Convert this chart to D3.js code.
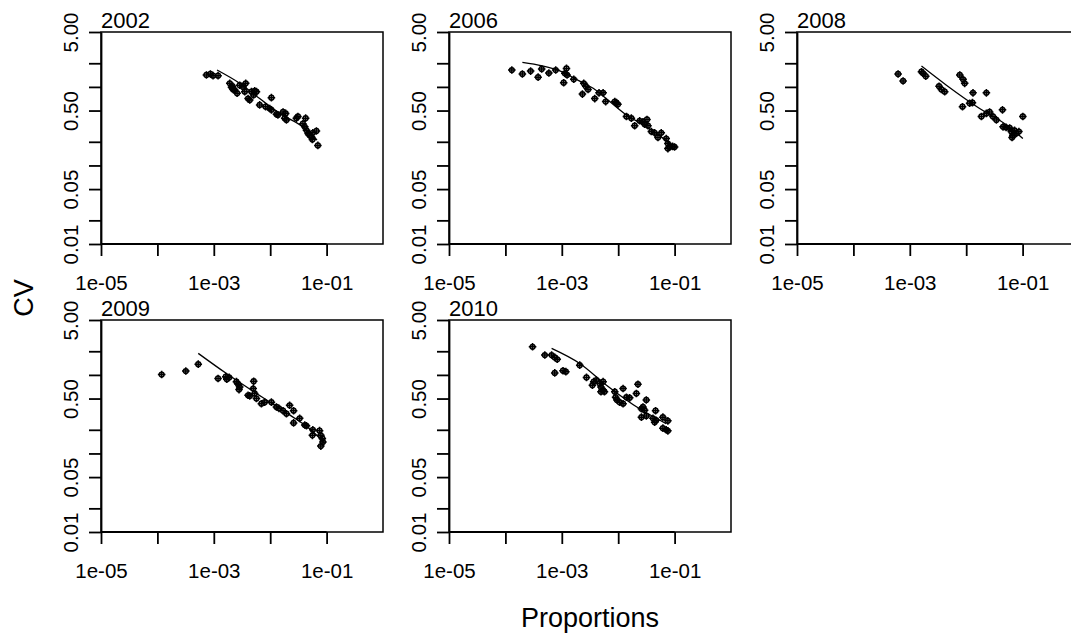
<!DOCTYPE html>
<meta charset="utf-8">
<style>
  body { margin: 0; background: #fff; }
  svg { display: block; font-family: "Liberation Sans", Arial, sans-serif; }
  .box { fill: none; stroke: #000; stroke-width: 1.5; }
  .axis path, .axis line { stroke: #000; stroke-width: 1.8; }
  .axis text { font-size: 20.5px; fill: #000; }
  .fit { fill: none; stroke: #000; stroke-width: 1.3; }
  .pt circle { fill: none; stroke: #000; stroke-width: 1.5; }
  .pt path { stroke: #000; stroke-width: 1.5; }
</style>
<svg width="1071" height="642"></svg>
<script src="https://d3js.org/d3.v7.min.js"></script>
<script>

// data: proportion (x), CV (y)
var years = ["2002", "2006", "2008", "2009", "2010"];

var p2002 = [7.4e-4, 8.7e-4, 9.7e-4, 1.19e-3, 1.92e-3, 2.06e-3, 2.2e-3, 2.35e-3, 2.59e-3, 2.14e-3, 2.88e-3, 3.3e-3, 3.68e-3, 3.54e-3, 4.05e-3, 4.34e-3, 4.65e-3, 5.3e-3, 5.7e-3, 5.1e-3, 6.5e-3, 1.05e-2, 8.3e-3, 9.8e-3, 1.05e-2, 1.29e-2, 1.37e-2, 1.69e-2, 1.88e-2, 1.81e-2, 1.94e-2, 2.91e-2, 3.1e-2, 4.25e-2, 3.8e-2, 4.1e-2, 4.4e-2, 4.7e-2, 5.0e-2, 5.4e-2, 5.7e-2, 6.6e-2, 5.6e-2, 7.0e-2];
var cv2002 = [1.42, 1.46, 1.39, 1.39, 1.11, 0.99, 0.93, 0.91, 0.83, 1.02, 1.05, 1.0, 1.11, 0.87, 0.71, 0.68, 0.87, 0.89, 0.87, 0.79, 0.59, 0.73, 0.56, 0.53, 0.51, 0.45, 0.44, 0.48, 0.46, 0.40, 0.38, 0.40, 0.42, 0.40, 0.34, 0.31, 0.28, 0.255, 0.243, 0.23, 0.26, 0.275, 0.214, 0.18];
var fitP2002 = [1.14e-3, 2.88e-3, 6.5e-3, 1.47e-2, 3.33e-2, 5.7e-2, 6.75e-2];
var fitCv2002 = [1.64, 1.11, 0.71, 0.46, 0.33, 0.243, 0.21];

var p2006 = [1.3e-4, 2.0e-4, 2.8e-4, 3.8e-4, 4.4e-4, 5.9e-4, 7.8e-4, 1.21e-3, 1.13e-3, 1.24e-3, 1.08e-3, 1.63e-3, 2.45e-3, 2.66e-3, 2.32e-3, 2.92e-3, 3.84e-3, 4.57e-3, 5.4e-3, 6.0e-3, 8.7e-3, 9.3e-3, 9.9e-3, 1.4e-2, 1.71e-2, 1.96e-2, 2.4e-2, 2.75e-2, 2.94e-2, 3.24e-2, 3.37e-2, 3.87e-2, 4.43e-2, 5.07e-2, 5.8e-2, 7.1e-2, 7.6e-2, 8.2e-2, 0.1, 7.6e-2, 9.2e-2];
var cv2006 = [1.64, 1.46, 1.59, 1.33, 1.69, 1.50, 1.64, 1.72, 1.49, 1.42, 1.13, 1.25, 1.11, 1.02, 0.81, 0.93, 0.71, 0.84, 0.84, 0.65, 0.65, 0.63, 0.60, 0.42, 0.40, 0.32, 0.37, 0.36, 0.335, 0.385, 0.32, 0.27, 0.26, 0.227, 0.26, 0.22, 0.19, 0.172, 0.172, 0.164, 0.175];
var fitP2006 = [2.0e-4, 4.5e-4, 9.2e-4, 2.0e-3, 3.6e-3, 7.1e-3, 1.4e-2, 2.75e-2, 5.4e-2, 0.105];
var fitCv2006 = [2.05, 1.85, 1.6, 1.2, 0.96, 0.65, 0.44, 0.33, 0.24, 0.165];

var p2008 = [6.2e-4, 7.6e-4, 1.61e-3, 1.72e-3, 1.92e-3, 3.3e-3, 3.64e-3, 4.16e-3, 7.7e-3, 8.8e-3, 9.4e-3, 1.32e-2, 2.28e-2, 8.6e-3, 1.15e-2, 1.29e-2, 1.86e-2, 2.28e-2, 2.6e-2, 2.98e-2, 3.43e-2, 4.4e-2, 4.5e-2, 5.1e-2, 5.9e-2, 6.3e-2, 6.7e-2, 7.2e-2, 7.7e-2, 8.6e-2, 0.101, 6.5e-2];
var cv2008 = [1.46, 1.19, 1.56, 1.49, 1.37, 1.02, 0.93, 0.87, 1.42, 1.25, 1.11, 0.84, 0.84, 0.56, 0.62, 0.63, 0.42, 0.46, 0.48, 0.42, 0.38, 0.51, 0.31, 0.305, 0.30, 0.27, 0.243, 0.28, 0.255, 0.27, 0.42, 0.227];
var fitP2008 = [1.61e-3, 4.46e-3, 1.73e-2, 5.1e-2, 0.101];
var fitCv2008 = [1.84, 1.05, 0.53, 0.33, 0.22];

var p2009 = [1.19e-4, 3.19e-4, 5.3e-4, 1.19e-3, 1.63e-3, 1.7e-3, 1.87e-3, 2.52e-3, 2.7e-3, 2.88e-3, 2.8e-3, 5.1e-3, 5.0e-3, 5.3e-3, 4.05e-3, 4.34e-3, 5.7e-3, 6.98e-3, 8.0e-3, 1.05e-2, 1.29e-2, 1.43e-2, 1.69e-2, 1.94e-2, 2.21e-2, 2.6e-2, 3.33e-2, 2.6e-2, 4.1e-2, 4.4e-2, 5.7e-2, 5.6e-2, 7.5e-2, 7.9e-2, 8.4e-2, 7.9e-2, 8.6e-2];
var cv2009 = [1.01, 1.12, 1.37, 0.90, 0.95, 0.88, 0.93, 0.82, 0.76, 0.70, 0.65, 0.83, 0.67, 0.58, 0.55, 0.54, 0.50, 0.43, 0.45, 0.45, 0.39, 0.375, 0.35, 0.32, 0.41, 0.35, 0.28, 0.245, 0.23, 0.225, 0.20, 0.17, 0.195, 0.17, 0.155, 0.124, 0.14];
var fitP2009 = [5.3e-4, 1.68e-3, 5.7e-3, 2.21e-2, 5.7e-2, 9.2e-2];
var fitCv2009 = [1.88, 1.04, 0.58, 0.31, 0.19, 0.134];

var p2010 = [3.03e-4, 5.0e-4, 6.6e-4, 7.5e-4, 8.3e-4, 7.5e-4, 1.05e-3, 1.18e-3, 2.08e-3, 2.74e-3, 3.49e-3, 3.68e-3, 4.11e-3, 4.7e-3, 4.95e-3, 4.95e-3, 5.4e-3, 5.7e-3, 5.4e-3, 8.7e-3, 9.0e-3, 9.5e-3, 1.06e-2, 1.22e-2, 1.22e-2, 1.4e-2, 1.6e-2, 2.1e-2, 2.24e-2, 3.15e-2, 2.58e-2, 2.75e-2, 2.94e-2, 2.58e-2, 3.15e-2, 4.6e-2, 4.13e-2, 4.7e-2, 4.43e-2, 6.2e-2, 7.6e-2, 6.2e-2, 7.1e-2, 7.6e-2];
var cv2010 = [2.28, 1.79, 1.79, 1.67, 1.58, 1.06, 1.13, 1.10, 1.33, 0.93, 0.74, 0.82, 0.86, 0.78, 0.70, 0.61, 0.64, 0.61, 0.82, 0.61, 0.52, 0.48, 0.45, 0.67, 0.43, 0.52, 0.51, 0.58, 0.76, 0.48, 0.37, 0.39, 0.355, 0.29, 0.30, 0.35, 0.28, 0.265, 0.25, 0.29, 0.26, 0.21, 0.20, 0.194];
var fitP2010 = [6.6e-4, 2.08e-3, 6.2e-3, 2.4e-2, 7.1e-2];
var fitCv2010 = [2.18, 1.40, 0.74, 0.37, 0.24];

var xTicks = [1e-5, 1e-4, 1e-3, 1e-2, 1e-1];
var xTickLabels = ["1e-05", "", "1e-03", "", "1e-01"];
var yTicks = [0.01, 0.02, 0.05, 0.1, 0.2, 0.5, 1, 2, 5];
var yTickLabels = ["0.01", "", "0.05", "", "", "0.50", "", "", "5.00"];

var pts = [[p2002, cv2002], [p2006, cv2006], [p2008, cv2008], [p2009, cv2009], [p2010, cv2010]];
var fits = [[fitP2002, fitCv2002], [fitP2006, fitCv2006], [fitP2008, fitCv2008], [fitP2009, fitCv2009], [fitP2010, fitCv2010]];

var svg = d3.select("svg");

var w = 282, h = 212;
var colX = [101, 449, 797], rowY = [32, 320];

var x = d3.scaleLog().domain([1e-5, 1]).range([0, w]);
var y = d3.scaleLog().domain([0.01, 5]).range([h, 0]);

var line = d3.line()
    .curve(d3.curveMonotoneX)
    .x(function(d) { return x(d[0]); })
    .y(function(d) { return y(d[1]); });

years.forEach(function(yr, k) {
  var g = svg.append("g")
      .attr("transform", "translate(" + colX[k % 3] + "," + rowY[Math.floor(k / 3)] + ")");

  g.append("rect").attr("class", "box")
      .attr("width", w).attr("height", h);

  // x axis
  var gx = g.append("g").attr("class", "axis")
      .attr("transform", "translate(0," + h + ")")
      .call(d3.axisBottom(x).tickValues(xTicks).tickSize(12).tickSizeOuter(0)
        .tickPadding(19).tickFormat(function(d, i) { return xTickLabels[i]; }));
  gx.select(".domain").attr("d", "M0,0H" + x(xTicks[xTicks.length - 1]));

  // y axis, labels turned like R's las=0
  var gy = g.append("g").attr("class", "axis")
      .call(d3.axisLeft(y).tickValues(yTicks).tickSize(12).tickSizeOuter(0)
        .tickFormat(function(d, i) { return yTickLabels[i]; }));
  gy.selectAll(".tick text")
      .attr("transform", "rotate(-90)")
      .attr("x", 0).attr("y", -23).attr("dy", 0)
      .attr("text-anchor", "middle");

  g.append("text")
      .attr("x", 0).attr("y", -4)
      .attr("font-size", 22)
      .text(yr);

  var fp = fits[k];
  g.append("path").attr("class", "fit")
      .attr("d", line(d3.zip(fp[0], fp[1])));

  var pt = g.selectAll(".pt")
    .data(d3.zip(pts[k][0], pts[k][1]))
    .enter().append("g")
      .attr("class", "pt")
      .attr("transform", function(d) { return "translate(" + x(d[0]) + "," + y(d[1]) + ")"; });
  pt.append("circle").attr("r", 2.4);
  pt.append("path").attr("d", "M-3.8,0H3.8M0,-3.8V3.8");
});

svg.append("text")
    .attr("transform", "translate(33,298) rotate(-90)")
    .attr("text-anchor", "middle")
    .attr("font-size", 27)
    .text("CV");

svg.append("text")
    .attr("x", 590).attr("y", 627)
    .attr("text-anchor", "middle")
    .attr("font-size", 27)
    .text("Proportions");

</script>
